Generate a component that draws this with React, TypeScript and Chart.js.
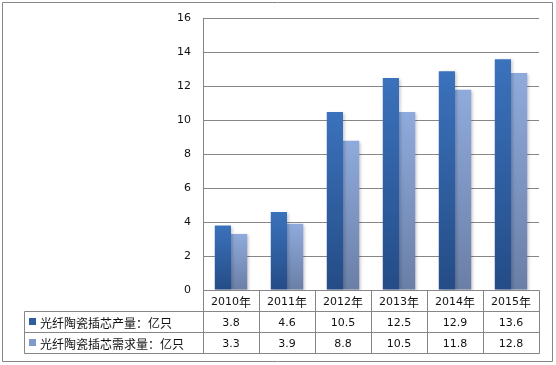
import React, { useEffect, useRef } from "react";
import { Chart, registerables } from "chart.js";

Chart.register(...registerables);

const categories = ["2010年", "2011年", "2012年", "2013年", "2014年", "2015年"];
const seriesNames = ["光纤陶瓷插芯产量：亿只", "光纤陶瓷插芯需求量：亿只"];
const production = [3.8, 4.6, 10.5, 12.5, 12.9, 13.6];
const demand = [3.3, 3.9, 8.8, 10.5, 11.8, 12.8];
const valueLabels = [
  ["3.8", "4.6", "10.5", "12.5", "12.9", "13.6"],
  ["3.3", "3.9", "8.8", "10.5", "11.8", "12.8"],
];

const GRID = "#868686";
const TEXT = "#111111";
const NUM_FONT = "11px 'DejaVu Sans', Verdana, sans-serif";
const CJK_FONT = "12px 'Noto Sans CJK SC', sans-serif";

const gradColors = [
  ["#3B72BC", "#244C86"],
  ["#8FAADC", "#6A7FA6"],
];
const keyColors = ["#2E5E9E", "#7F9BCB"];

function barGradient(dsIndex: number) {
  return (ctx: any) => {
    const chart = ctx.chart;
    const y = chart.scales?.y;
    if (!chart.chartArea || !y || ctx.raw == null) return gradColors[dsIndex][0];
    const top = y.getPixelForValue(ctx.raw);
    const bottom = y.getPixelForValue(0);
    const g = chart.ctx.createLinearGradient(0, top, 0, bottom);
    g.addColorStop(0, gradColors[dsIndex][0]);
    g.addColorStop(1, gradColors[dsIndex][1]);
    return g;
  };
}

const tablePlugin = {
  id: "dataTable",
  beforeDatasetsDraw(chart: any) {
    const ctx = chart.ctx;
    ctx.save();
    ctx.shadowColor = "rgba(0,0,0,0.22)";
    ctx.shadowBlur = 3;
    ctx.shadowOffsetX = 2;
    ctx.shadowOffsetY = 1;
  },
  afterDatasetsDraw(chart: any) {
    chart.ctx.restore();
  },
  afterDraw(chart: any) {
    const ctx = chart.ctx;
    const area = chart.chartArea;
    const xs = chart.scales.x;
    const n = categories.length;
    const cw = (area.right - area.left) / n;
    const rowH = 21;
    const top = Math.round(area.bottom) + 0.5;
    const rows = [top, top + rowH, top + rowH * 2, top + rowH * 3];
    const tableLeft = 24.5;
    const right = Math.round(area.right) + 0.5;
    const left = Math.round(area.left) + 0.5;

    ctx.save();
    ctx.strokeStyle = GRID;
    ctx.lineWidth = 1;
    ctx.beginPath();
    ctx.moveTo(left, rows[0]);
    ctx.lineTo(right, rows[0]);
    for (let r = 1; r < 4; r++) {
      ctx.moveTo(tableLeft, rows[r]);
      ctx.lineTo(right, rows[r]);
    }
    ctx.moveTo(left, Math.round(area.top) + 0.5);
    ctx.lineTo(left, rows[3]);
    for (let i = 1; i <= n; i++) {
      const x = Math.round(area.left + cw * i) + 0.5;
      ctx.moveTo(x, rows[0]);
      ctx.lineTo(x, rows[3]);
    }
    ctx.moveTo(tableLeft, rows[1]);
    ctx.lineTo(tableLeft, rows[3]);
    ctx.rect(2.5, 2.5, 550, 359);
    ctx.stroke();

    ctx.fillStyle = TEXT;
    ctx.textAlign = "center";
    ctx.textBaseline = "middle";
    for (let i = 0; i < n; i++) {
      const cx = xs.getPixelForValue(i);
      const yr = categories[i].replace("年", "");
      ctx.font = NUM_FONT;
      ctx.fillText(yr, cx - 6, (rows[0] + rows[1]) / 2 + 1);
      const numW = ctx.measureText(yr).width;
      ctx.font = CJK_FONT;
      ctx.textAlign = "left";
      ctx.fillText("年", cx - 6 + numW / 2, (rows[0] + rows[1]) / 2 + 1);
      ctx.textAlign = "center";
      ctx.font = NUM_FONT;
      ctx.fillText(valueLabels[0][i], cx, (rows[1] + rows[2]) / 2 + 1);
      ctx.fillText(valueLabels[1][i], cx, (rows[2] + rows[3]) / 2 + 1);
    }
    ctx.textAlign = "left";
    for (let s = 0; s < 2; s++) {
      const cy = (rows[s + 1] + rows[s + 2]) / 2;
      ctx.fillStyle = keyColors[s];
      ctx.fillRect(29, Math.round(cy) - 4, 7, 7);
      ctx.fillStyle = TEXT;
      ctx.font = CJK_FONT;
      ctx.fillText(seriesNames[s], 40, cy + 1);
    }
    ctx.restore();
  },
};

export default function App() {
  const ref = useRef<HTMLCanvasElement>(null);
  useEffect(() => {
    if (!ref.current) return;
    const chart = new Chart(ref.current, {
      type: "bar",
      data: {
        labels: categories,
        datasets: [
          {
            label: seriesNames[0],
            data: production,
            backgroundColor: barGradient(0),
            borderWidth: 0,
            barPercentage: 1,
            categoryPercentage: 0.58,
          },
          {
            label: seriesNames[1],
            data: demand,
            backgroundColor: barGradient(1),
            borderWidth: 0,
            barPercentage: 1,
            categoryPercentage: 0.58,
          },
        ],
      },
      options: {
        responsive: false,
        animation: false,
        layout: { padding: { left: 0, top: 14, right: 17, bottom: 75 } },
        plugins: { legend: { display: false }, tooltip: { enabled: false } },
        scales: {
          x: { display: false },
          y: {
            min: 0,
            max: 16,
            afterFit: (scale: any) => {
              scale.width = 203;
            },
            ticks: {
              stepSize: 2,
              padding: 12,
              color: TEXT,
              font: { family: "'DejaVu Sans', Verdana, sans-serif", size: 11 },
            },
            grid: { color: GRID, lineWidth: 1, drawTicks: false },
            border: { display: true, color: GRID },
          },
        },
      },
      plugins: [tablePlugin],
    });
    return () => chart.destroy();
  }, []);
  return (
    <div style={{ position: "absolute", left: 0, top: 0, width: 556, height: 365, background: "#fff" }}>
      <canvas ref={ref} width={556} height={365} style={{ display: "block" }} />
    </div>
  );
}
